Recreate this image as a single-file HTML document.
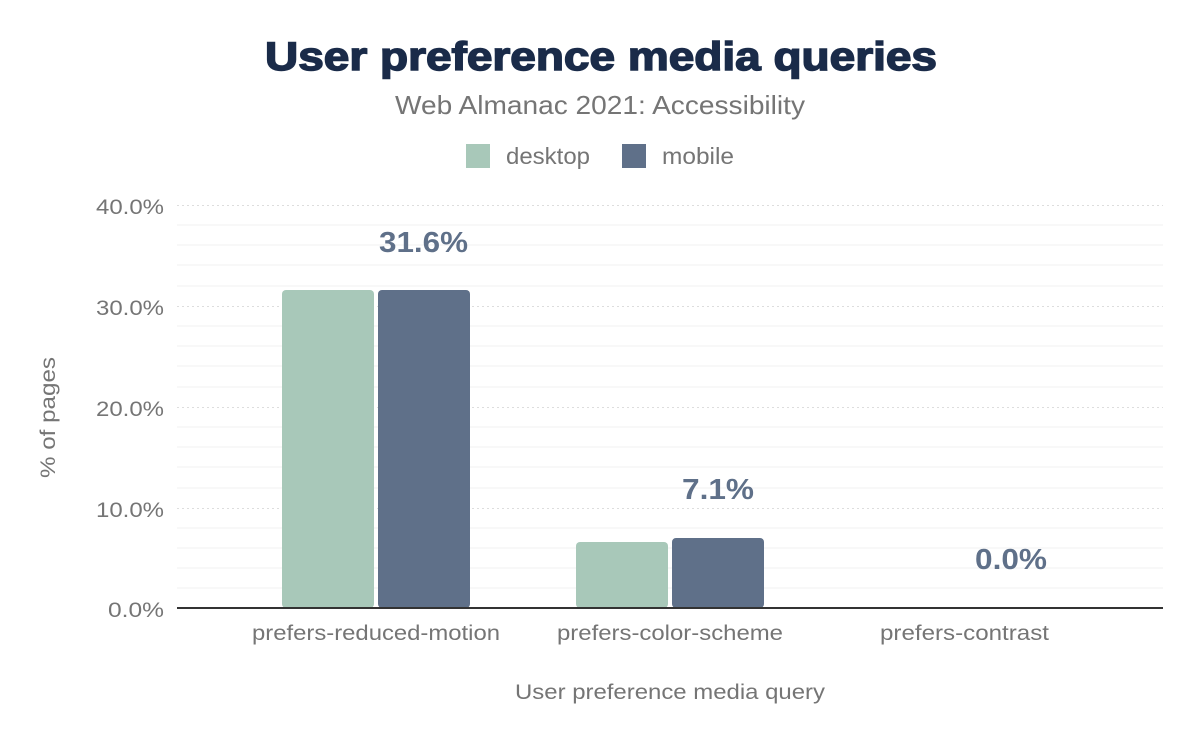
<!DOCTYPE html>
<html><head><style>body{margin:0;background:#fff}</style></head><body>
<svg width="1200" height="742" xmlns="http://www.w3.org/2000/svg" font-family="Liberation Sans, sans-serif">
<rect width="1200" height="742" fill="#fff"/>
<text x="265" y="70" font-size="40" font-weight="bold" fill="#1a2b49" stroke="#1a2b49" stroke-width="1.5" textLength="672" lengthAdjust="spacingAndGlyphs">User preference media queries</text>
<text x="395" y="114" font-size="26" fill="#757575" textLength="410" lengthAdjust="spacingAndGlyphs">Web Almanac 2021: Accessibility</text>
<rect x="466" y="144" width="24" height="24" fill="#a8c8b9"/>
<text x="506" y="164" font-size="23" fill="#757575" textLength="84" lengthAdjust="spacingAndGlyphs">desktop</text>
<rect x="622" y="144" width="24" height="24" fill="#5f7089"/>
<text x="662" y="164" font-size="23" fill="#757575" textLength="72" lengthAdjust="spacingAndGlyphs">mobile</text>
<g stroke="#f5f5f5" stroke-width="1.5">
<line x1="177" x2="1163" y1="225" y2="225"/><line x1="177" x2="1163" y1="245" y2="245"/><line x1="177" x2="1163" y1="265" y2="265"/><line x1="177" x2="1163" y1="286" y2="286"/>
<line x1="177" x2="1163" y1="326" y2="326"/><line x1="177" x2="1163" y1="346" y2="346"/><line x1="177" x2="1163" y1="366" y2="366"/><line x1="177" x2="1163" y1="387" y2="387"/>
<line x1="177" x2="1163" y1="427" y2="427"/><line x1="177" x2="1163" y1="447" y2="447"/><line x1="177" x2="1163" y1="467" y2="467"/><line x1="177" x2="1163" y1="488" y2="488"/>
<line x1="177" x2="1163" y1="528" y2="528"/><line x1="177" x2="1163" y1="548" y2="548"/><line x1="177" x2="1163" y1="568" y2="568"/><line x1="177" x2="1163" y1="588" y2="588"/>
</g>
<g stroke="#ddd" stroke-width="1" stroke-dasharray="2,3">
<line x1="177" x2="1163" y1="205.5" y2="205.5"/><line x1="177" x2="1163" y1="306.5" y2="306.5"/><line x1="177" x2="1163" y1="407.5" y2="407.5"/><line x1="177" x2="1163" y1="508.5" y2="508.5"/>
</g>
<g font-size="21" fill="#757575">
<text x="96" y="214" textLength="68" lengthAdjust="spacingAndGlyphs">40.0%</text>
<text x="96" y="315" textLength="68" lengthAdjust="spacingAndGlyphs">30.0%</text>
<text x="96" y="416" textLength="68" lengthAdjust="spacingAndGlyphs">20.0%</text>
<text x="96" y="517" textLength="68" lengthAdjust="spacingAndGlyphs">10.0%</text>
<text x="108" y="617" textLength="56" lengthAdjust="spacingAndGlyphs">0.0%</text>
</g>
<rect x="282" y="290" width="92" height="318" rx="4" fill="#a8c8b9"/>
<rect x="378" y="290" width="92" height="318" rx="4" fill="#5f7089"/>
<rect x="576" y="542" width="92" height="66" rx="4" fill="#a8c8b9"/>
<rect x="672" y="538" width="92" height="70" rx="4" fill="#5f7089"/>
<line x1="177" x2="1163" y1="608" y2="608" stroke="#333" stroke-width="2"/>
<g font-size="29" font-weight="bold" fill="#5f7089">
<text x="379" y="252" textLength="89" lengthAdjust="spacingAndGlyphs">31.6%</text>
<text x="682" y="499" textLength="72" lengthAdjust="spacingAndGlyphs">7.1%</text>
<text x="975" y="569" textLength="72" lengthAdjust="spacingAndGlyphs">0.0%</text>
</g>
<g font-size="21" fill="#757575">
<text x="252" y="640" textLength="248" lengthAdjust="spacingAndGlyphs">prefers-reduced-motion</text>
<text x="557" y="640" textLength="226" lengthAdjust="spacingAndGlyphs">prefers-color-scheme</text>
<text x="880" y="640" textLength="169" lengthAdjust="spacingAndGlyphs">prefers-contrast</text>
<text x="515" y="699" textLength="310" lengthAdjust="spacingAndGlyphs">User preference media query</text>
<text transform="translate(55,478) rotate(-90)" textLength="121" lengthAdjust="spacingAndGlyphs">% of pages</text>
</g>
</svg>
</body></html>
